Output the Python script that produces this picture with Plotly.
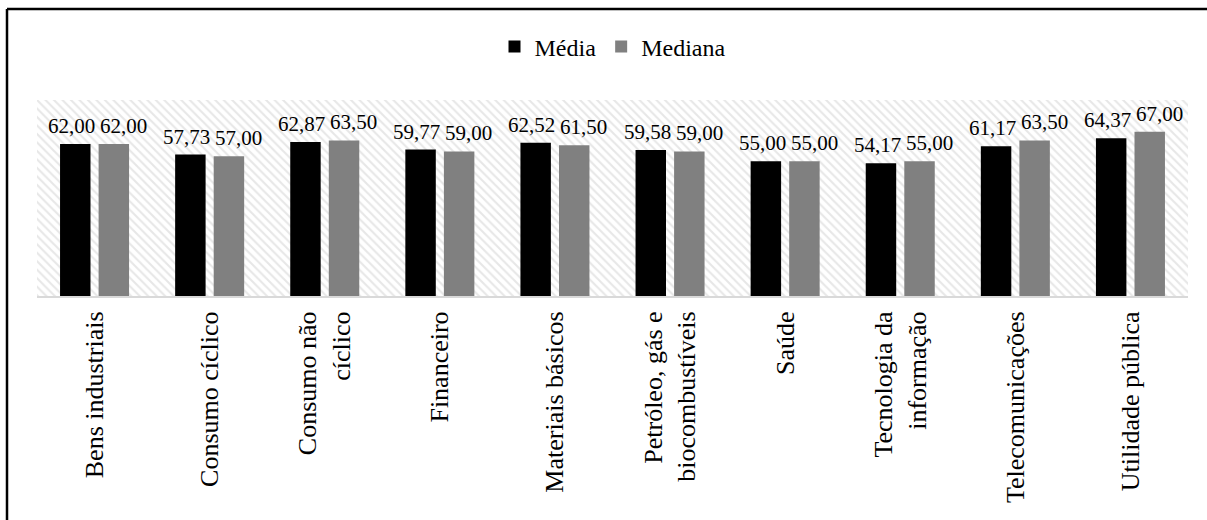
import plotly.graph_objects as go

categories = ["Bens industriais", "Consumo cíclico", "Consumo não<br>cíclico", "Financeiro",
              "Materiais básicos", "Petróleo, gás e<br>biocombustíveis", "Saúde",
              "Tecnologia da<br>informação", "Telecomunicações", "Utilidade pública"]
media = [62.00, 57.73, 62.87, 59.77, 62.52, 59.58, 55.00, 54.17, 61.17, 64.37]
mediana = [62.00, 57.00, 63.50, 59.00, 61.50, 59.00, 55.00, 55.00, 63.50, 67.00]

FONT = "Liberation Serif"
W, H = 1207, 520
ML, MR, MT, MB = 37, 19, 100, 224
pw, ph = W - ML - MR, H - MT - MB

def fmt(v):
    return f"{v:.2f}".replace(".", ",")

fig = go.Figure()

# hatched background of the plot area
fig.add_trace(go.Bar(
    x=[0.5], y=[80], width=[1], xaxis="x", yaxis="y",
    marker=dict(color="white", line=dict(width=0),
                pattern=dict(shape="\\", fgcolor="#cfcfcf", bgcolor="white", size=6, solidity=0.35)),
    showlegend=False, hoverinfo="skip"))

fig.add_trace(go.Bar(
    name="Média", x=categories, y=media, xaxis="x2", yaxis="y",
    marker=dict(color="#000000", line=dict(width=0))))
fig.add_trace(go.Bar(
    name="Mediana", x=categories, y=mediana, xaxis="x2", yaxis="y",
    marker=dict(color="#808080", line=dict(width=0))))

# data labels (offset sideways like the reference so they do not collide)
for series, shift in ((media, -23), (mediana, 29)):
    for c, v in zip(categories, series):
        fig.add_annotation(x=c, y=v, xref="x2", yref="y", text=fmt(v), showarrow=False,
                           xanchor="center", yanchor="bottom", xshift=shift, yshift=5,
                           borderpad=0, font=dict(family=FONT, size=21, color="black"))

# frame (partly cut off by the image edge)
x0 = (7 - ML) / pw
y0 = 1 + (MT - 9) / ph
fig.add_shape(type="line", xref="paper", yref="paper", x0=x0, x1=1.2, y0=y0, y1=y0,
              line=dict(color="black", width=2.5))
fig.add_shape(type="line", xref="paper", yref="paper", x0=x0, x1=x0, y0=y0, y1=-2,
              line=dict(color="black", width=2.5))

fig.update_layout(
    width=W, height=H,
    margin=dict(l=ML, r=MR, t=MT, b=MB, pad=0),
    paper_bgcolor="white", plot_bgcolor="white",
    barmode="group", bargap=0.33, bargroupgap=0.21,
    font=dict(family=FONT, size=21, color="black"),
    showlegend=True,
    legend=dict(orientation="h", x=0.5, xanchor="center", y=1 + (MT - 47) / ph, yanchor="middle",
                font=dict(family=FONT, size=24, color="black"), itemwidth=30,
                bgcolor="rgba(0,0,0,0)"),
    xaxis=dict(range=[0, 1], visible=False, fixedrange=True),
    xaxis2=dict(overlaying="x", side="bottom", type="category", tickangle=-90,
                showline=True, linecolor="#d9d9d9", linewidth=2, ticks="",
                showgrid=False, tickfont=dict(family=FONT, size=26, color="black"),
                ticklabelstandoff=3),
    yaxis=dict(range=[0, 80], visible=False, showgrid=False, zeroline=False),
)

fig.write_html("out.html")
